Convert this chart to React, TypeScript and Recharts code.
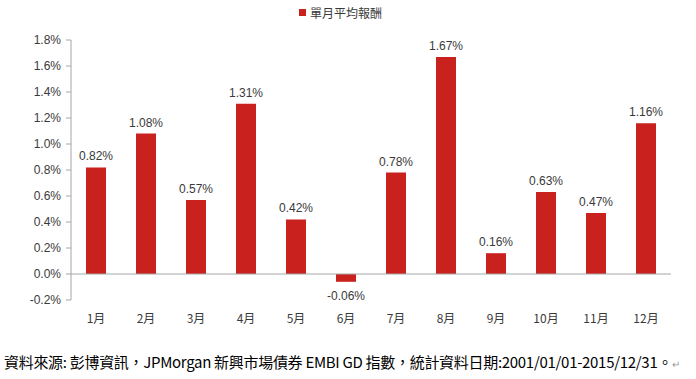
import { BarChart, Bar, XAxis, YAxis, Legend, ReferenceLine, LabelList } from "recharts";

const months = ["1月", "2月", "3月", "4月", "5月", "6月", "7月", "8月", "9月", "10月", "11月", "12月"];
const avgReturn = [0.82, 1.08, 0.57, 1.31, 0.42, -0.06, 0.78, 1.67, 0.16, 0.63, 0.47, 1.16];
const yTicks = [-0.2, 0, 0.2, 0.4, 0.6, 0.8, 1.0, 1.2, 1.4, 1.6, 1.8];

const seriesName = "單月平均報酬";
const footnote = "資料來源: 彭博資訊，JPMorgan 新興市場債券 EMBI GD 指數，統計資料日期:2001/01/01-2015/12/31。";

const BAR_COLOR = "#c9211e";
const AXIS_COLOR = "#a6a6a6";
const TEXT_COLOR = "#3a3a3a";
const FONT = "'Liberation Sans', Arial, 'Noto Sans CJK TC', sans-serif";

const data = months.map((m, i) => ({ month: m, value: avgReturn[i] }));

// label above positive bars, below negative ones
function ValueLabel(props: any) {
    const { x, y, width, height, value } = props;
    const cx = x + width / 2;
    const top = Math.min(y, y + height);
    const bottom = Math.max(y, y + height);
    const ty = value < 0 ? bottom + 18 : top - 7;
    return (
        <text x={cx} y={ty} textAnchor="middle" fontSize={12} fill={TEXT_COLOR} fontFamily={FONT}>
            {value.toFixed(2)}%
        </text>
    );
}

export default function App() {
    return (
        <div style={{ position: "absolute", left: 0, top: 0, width: 696, height: 379, background: "#fff" }}>
            <BarChart
                width={696}
                height={340}
                data={data}
                margin={{ top: 23, right: 25, left: 0, bottom: 10 }}
                barCategoryGap={15}
            >
                <Legend
                    verticalAlign="top"
                    content={() => (
                        <div style={{ display: "flex", alignItems: "center", height: 17, fontFamily: "'Noto Sans CJK TC', sans-serif", fontSize: 12, color: TEXT_COLOR }}>
                            <span style={{ display: "inline-block", width: 7, height: 7, background: BAR_COLOR, marginRight: 4 }} />
                            {seriesName}
                        </div>
                    )}
                    wrapperStyle={{ top: 4, left: 299, width: "auto" }}
                />
                <XAxis
                    dataKey="month"
                    axisLine={false}
                    tickLine={false}
                    tickSize={0}
                    tickMargin={14}
                    height={30}
                    interval={0}
                    tick={{ fontSize: 12, fill: TEXT_COLOR, fontFamily: "'Noto Sans CJK TC', sans-serif" }}
                />
                <YAxis
                    domain={[-0.2, 1.8]}
                    allowDataOverflow
                    ticks={yTicks}
                    interval={0}
                    width={71}
                    axisLine={{ stroke: AXIS_COLOR }}
                    tickLine={{ stroke: AXIS_COLOR }}
                    tickSize={5}
                    tickMargin={5}
                    tickFormatter={(v: number) => `${v.toFixed(1)}%`}
                    tick={{ fontSize: 12, fill: TEXT_COLOR, fontFamily: FONT }}
                />
                <ReferenceLine y={0} stroke={AXIS_COLOR} />
                <Bar dataKey="value" name={seriesName} fill={BAR_COLOR} barSize={20} isAnimationActive={false}>
                    <LabelList dataKey="value" content={ValueLabel} />
                </Bar>
            </BarChart>
            <div
                style={{
                    position: "absolute",
                    left: 4,
                    top: 351,
                    whiteSpace: "nowrap",
                    fontFamily: "'Noto Sans CJK TC', sans-serif",
                    fontSize: 15,
                    letterSpacing: -0.3,
                    color: "#000",
                }}
            >
                {footnote}
                <span style={{ color: "#999", fontSize: 10 }}>↵</span>
            </div>
        </div>
    );
}
